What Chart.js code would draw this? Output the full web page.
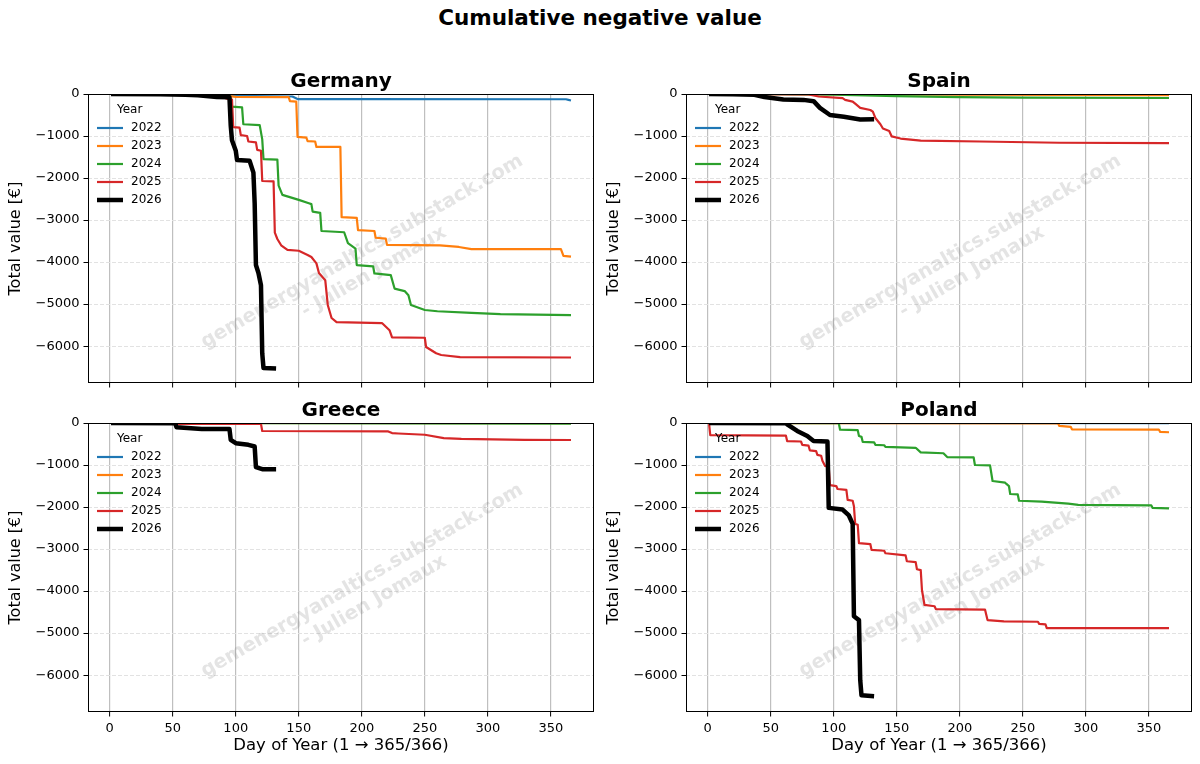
<!DOCTYPE html>
<html><head><meta charset="utf-8">
<script src="https://cdn.jsdelivr.net/npm/chart.js@4.4.1/dist/chart.umd.min.js"></script>
<style>
html,body{margin:0;padding:0;background:#fff;width:1200px;height:764px;overflow:hidden;}
#title{position:absolute;left:0;top:5px;width:1200px;text-align:center;font:bold 21.5px "DejaVu Sans";line-height:26px;color:#000;}
canvas{position:absolute;}
</style></head><body>
<div id="title">Cumulative negative value</div>
<canvas id="c0" width="600" height="329" style="left:0px;top:60px"></canvas>
<canvas id="c1" width="600" height="329" style="left:598px;top:60px"></canvas>
<canvas id="c2" width="600" height="375" style="left:0px;top:389px"></canvas>
<canvas id="c3" width="600" height="375" style="left:598px;top:389px"></canvas>
<script>
// ---------- data ----------
const years = ['2022', '2023', '2024', '2025', '2026'];
const countries = ['Germany', 'Spain', 'Greece', 'Poland'];
const xTicks = [0, 50, 100, 150, 200, 250, 300, 350];
const yTicks = [0, -1000, -2000, -3000, -4000, -5000, -6000];

// [day, cumulative value €]
const germany2022 = [[1,0],[60,-5],[95,-30],[100,-45],[145,-60],[149,-120],[200,-122],[362,-125],[364,-140],[366,-155]];
const germany2023 = [[1,0],[60,-5],[95,-50],[100,-70],[142,-75],[143,-170],[148,-180],[149,-1020],[156,-1040],[157,-1120],[163,-1130],[164,-1260],[183,-1260],[184,-2930],[196,-2950],[197,-3240],[210,-3260],[211,-3420],[219,-3440],[220,-3590],[262,-3600],[277,-3640],[287,-3690],[358,-3690],[360,-3850],[366,-3870]];
const germany2024 = [[1,0],[60,-5],[95,-30],[97,-300],[105,-320],[106,-720],[119,-740],[121,-1080],[122,-1550],[133,-1560],[134,-2180],[137,-2400],[150,-2520],[158,-2600],[160,-2620],[161,-2800],[167,-2830],[168,-3260],[186,-3290],[189,-3550],[195,-3680],[196,-4070],[209,-4100],[210,-4270],[223,-4310],[226,-4630],[234,-4690],[237,-4790],[239,-5020],[250,-5140],[260,-5170],[287,-5210],[310,-5240],[366,-5260]];
const germany2025 = [[1,0],[80,-10],[89,-60],[93,-110],[97,-130],[98,-790],[103,-800],[104,-980],[109,-1000],[110,-1130],[116,-1150],[117,-1330],[120,-1350],[121,-2070],[130,-2080],[131,-3300],[133,-3450],[136,-3600],[141,-3710],[150,-3730],[157,-3830],[160,-3880],[164,-4030],[166,-4260],[171,-4430],[173,-5020],[176,-5330],[180,-5430],[216,-5450],[222,-5620],[224,-5790],[250,-5800],[251,-6020],[259,-6170],[263,-6210],[278,-6260],[366,-6270]];
const germany2026 = [[1,0],[40,-5],[60,-15],[70,-30],[85,-70],[95,-80],[96,-750],[97,-1100],[100,-1350],[101,-1570],[111,-1590],[114,-1870],[115,-2600],[116,-4070],[118,-4260],[120,-4550],[121,-6170],[122,-6520],[132,-6530]];

const spain2022 = [[1,0],[366,-5]];
const spain2023 = [[1,0],[100,-5],[200,-15],[366,-25]];
const spain2024 = [[1,0],[60,-5],[100,-15],[150,-50],[200,-75],[250,-85],[366,-95]];
const spain2025 = [[1,0],[80,-10],[88,-60],[107,-100],[109,-140],[115,-180],[117,-230],[121,-330],[129,-380],[131,-420],[133,-570],[137,-720],[139,-820],[144,-880],[146,-1010],[153,-1060],[169,-1110],[216,-1130],[279,-1160],[366,-1170]];
const spain2026 = [[1,0],[20,-5],[37,-20],[45,-70],[60,-130],[76,-140],[84,-170],[89,-330],[97,-500],[108,-540],[121,-605],[132,-600]];

const greece2022 = [[1,0],[366,0]];
const greece2023 = [[1,0],[366,-5]];
const greece2024 = [[1,0],[366,-15]];
const greece2025 = [[1,0],[50,-5],[55,-20],[120,-20],[121,-190],[221,-200],[224,-240],[229,-250],[250,-280],[265,-360],[279,-380],[329,-400],[366,-405]];
const greece2026 = [[1,0],[52,-5],[53,-100],[73,-140],[95,-145],[96,-400],[100,-480],[110,-520],[115,-560],[116,-1050],[121,-1100],[132,-1100]];

const poland2022 = [[1,0],[366,-5]];
const poland2023 = [[1,0],[50,-5],[278,-10],[279,-70],[288,-90],[289,-150],[358,-160],[359,-210],[366,-220]];
const poland2024 = [[1,0],[104,-5],[105,-160],[119,-170],[120,-310],[122,-330],[123,-450],[132,-460],[133,-520],[140,-530],[141,-570],[165,-590],[169,-700],[187,-720],[190,-810],[211,-820],[212,-1000],[224,-1010],[226,-1380],[236,-1420],[237,-1450],[239,-1500],[240,-1690],[246,-1700],[247,-1850],[265,-1870],[286,-1920],[294,-1950],[352,-1960],[353,-2020],[366,-2030]];
const poland2025 = [[1,0],[2,-290],[62,-300],[63,-430],[74,-440],[75,-520],[80,-540],[81,-650],[86,-670],[87,-760],[90,-780],[91,-900],[93,-1020],[96,-1040],[97,-1480],[102,-1500],[103,-1570],[110,-1590],[111,-1830],[115,-1850],[116,-1980],[117,-2400],[119,-2420],[120,-2860],[129,-2880],[130,-3020],[140,-3040],[141,-3100],[157,-3150],[158,-3290],[165,-3310],[166,-3480],[169,-3500],[170,-3980],[172,-4330],[180,-4360],[181,-4430],[220,-4440],[222,-4690],[235,-4720],[262,-4730],[263,-4780],[268,-4790],[269,-4880],[366,-4880]];
const poland2026 = [[1,0],[62,-5],[63,-30],[71,-190],[79,-310],[84,-430],[95,-440],[96,-2020],[107,-2060],[112,-2200],[115,-2400],[116,-4600],[120,-4690],[121,-6120],[122,-6480],[132,-6500]];

const seriesByCountry = [
  [germany2022, germany2023, germany2024, germany2025, germany2026],
  [spain2022, spain2023, spain2024, spain2025, spain2026],
  [greece2022, greece2023, greece2024, greece2025, greece2026],
  [poland2022, poland2023, poland2024, poland2025, poland2026]
];

// ---------- styles ----------
const yearColors = ['#1f77b4', '#ff7f0e', '#2ca02c', '#d62728', '#000000'];
const yearWidths = [2.2, 2.2, 2.2, 2.2, 4.5];
const FONT = '"DejaVu Sans"';
Chart.defaults.font.family = FONT;
Chart.defaults.color = '#000';

const framePlugin = {
  id: 'frame',
  afterDraw(chart) {
    const {ctx, chartArea: a} = chart;
    ctx.save();
    ctx.strokeStyle = '#000';
    ctx.lineWidth = 1;
    ctx.strokeRect(Math.round(a.left) + 0.5, Math.round(a.top) + 0.5, Math.round(a.width) - 1, Math.round(a.height) - 1);
    ctx.restore();
  }
};

const watermarkPlugin = {
  id: 'watermark',
  beforeDatasetsDraw(chart) {
    const {ctx, chartArea: a} = chart;
    ctx.save();
    ctx.beginPath(); ctx.rect(a.left, a.top, a.width, a.height); ctx.clip();
    ctx.translate(a.left + 280, a.top + 168);
    ctx.rotate(-Math.PI / 6);
    ctx.font = 'bold 19.5px ' + FONT;
    ctx.fillStyle = 'rgba(120,120,120,0.2)';
    ctx.textAlign = 'center'; ctx.textBaseline = 'middle';
    ctx.fillText('gemenergyanaltics.substack.com', 0, -11.7);
    ctx.fillText('- Julien Jomaux', 0, 11.7);
    ctx.restore();
  }
};

const legendPlugin = {
  id: 'yearLegend',
  afterDatasetsDraw(chart) {
    const {ctx, chartArea: a} = chart;
    ctx.save();
    ctx.font = '12px ' + FONT;
    ctx.fillStyle = '#000';
    ctx.textAlign = 'left'; ctx.textBaseline = 'middle';
    ctx.fillText('Year', a.left + 29, a.top + 16);
    chart.data.datasets.forEach((ds, i) => {
      const y = a.top + 34 + 18 * i;
      ctx.strokeStyle = ds.borderColor;
      ctx.lineWidth = ds.borderWidth;
      ctx.beginPath(); ctx.moveTo(a.left + 9, y); ctx.lineTo(a.left + 35, y); ctx.stroke();
      ctx.fillStyle = '#000';
      ctx.fillText(ds.label, a.left + 43, y);
    });
    ctx.restore();
  }
};

function makeChart(idx) {
  const bottomRow = idx >= 2;
  const datasets = years.map((yr, i) => ({
    label: yr,
    data: seriesByCountry[idx][i].map(([x, y]) => ({x, y})),
    borderColor: yearColors[i],
    backgroundColor: yearColors[i],
    borderWidth: yearWidths[i],
    pointRadius: 0,
    tension: 0,
    fill: false,
    borderJoinStyle: 'round',
    order: 4 - i
  }));
  return new Chart(document.getElementById('c' + idx), {
    type: 'line',
    data: {datasets},
    plugins: [framePlugin, watermarkPlugin, legendPlugin],
    options: {
      responsive: false,
      animation: false,
      devicePixelRatio: 1,
      layout: {padding: {left: 0, right: 6, top: 0, bottom: 0}},
      plugins: {
        legend: {display: false},
        tooltip: {enabled: false},
        title: {
          display: true, text: countries[idx], fullSize: false,
          font: {size: 20, weight: 'bold', family: FONT},
          padding: {top: 10, bottom: 0}, color: '#000'
        }
      },
      scales: {
        x: {
          type: 'linear',
          min: -17.25, max: 384.25,
          afterBuildTicks: s => { s.ticks = xTicks.map(v => ({value: v})); },
          afterFit: s => { s.height = bottomRow ? 52 : 6; s.paddingLeft = 0; s.paddingRight = 0; },
          ticks: {display: bottomRow, font: {size: 13}, padding: 4.5, maxRotation: 0, autoSkip: false, color: '#000'},
          grid: {color: '#bfbfbf', lineWidth: 1.2, tickColor: '#000', tickLength: 4.5, tickWidth: 1},
          border: {display: false},
          title: {display: bottomRow, text: 'Day of Year (1 \u2192 365/366)', font: {size: 16.5}, padding: {top: 0, bottom: 8}, color: '#000'}
        },
        y: {
          type: 'linear',
          min: -6877, max: 0,
          afterBuildTicks: s => { s.ticks = yTicks.map(v => ({value: v})); },
          afterFit: s => { s.width = 88; s.paddingTop = 0; s.paddingBottom = 0; },
          ticks: {font: {size: 13}, padding: 4, color: '#000',
            callback: v => v === 0 ? '0' : '\u2212' + Math.abs(v)},
          grid: {color: '#e2e2e2', lineWidth: 1, tickColor: '#000', tickLength: 4.5, tickWidth: 1},
          border: {display: false, dash: [4, 2]},
          title: {display: true, text: 'Total value [\u20ac]', font: {size: 16}, padding: {top: 6, bottom: 0}, color: '#000'}
        }
      }
    }
  });
}
[0, 1, 2, 3].forEach(makeChart);
</script>
</body></html>
